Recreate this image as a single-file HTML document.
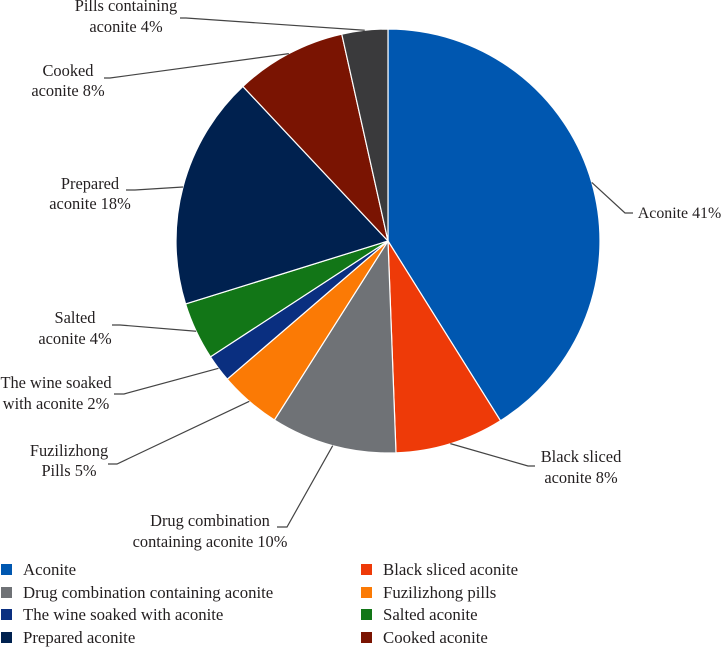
<!DOCTYPE html>
<html>
<head>
<meta charset="utf-8">
<title>Aconite pie chart</title>
<style>
html,body{margin:0;padding:0;background:#fff;width:721px;height:648px;overflow:hidden}
svg{display:block}
text{font-family:"Liberation Serif",serif;font-size:16.4px;fill:#231f20}
text.legend-text{font-size:16.8px}
</style>
</head>
<body>
<svg id="chart" width="721" height="648" viewBox="0 0 721 648" xmlns="http://www.w3.org/2000/svg"></svg>
<script>
const categories = ["Aconite","Black sliced aconite","Drug combination containing aconite","Fuzilizhong pills","The wine soaked with aconite","Salted aconite","Prepared aconite","Cooked aconite","Pills containing aconite"];
const sliceValues = [41.1,8.3,9.6,4.7,2.1,4.4,17.8,8.5,3.5];
const printedPercents = [41,8,10,5,2,4,18,8,4];
const labelFirstLines = ["","Black sliced","Drug combination","Fuzilizhong","The wine soaked","Salted","Prepared","Cooked","Pills containing"];
const labelSecondLines = ["Aconite","aconite","containing aconite","Pills","with aconite","aconite","aconite","aconite","aconite"];
const sliceColors = ["#0057b0","#ee3a08","#6f7276","#fb7a05","#0a2f80","#127617","#00214f","#7a1402","#3a3a3c"];

const NS = "http://www.w3.org/2000/svg";
const svg = document.getElementById("chart");
const cx = 388, cy = 241, r = 212;
const total = sliceValues.reduce((a, b) => a + b, 0);

/* label placement, keyed by category: elbow of the leader, text centre, baselines */
const layout = {
  "Aconite": {ex:625, ey:213, tx:633, lx:679.5, y1:0, y2:218, fs:15.9},
  "Black sliced aconite": {ex:528, ey:466, tx:535, lx:581, y1:462, y2:483},
  "Drug combination containing aconite": {ex:287, ey:527, tx:277, lx:210, y1:526, y2:547},
  "Fuzilizhong pills": {ex:117, ey:464, tx:108, lx:69, y1:456, y2:476},
  "The wine soaked with aconite": {ex:124, ey:394, tx:114, lx:56, y1:388, y2:409},
  "Salted aconite": {ex:120, ey:325, tx:112, lx:75, y1:323, y2:344},
  "Prepared aconite": {ex:135, ey:190, tx:126, lx:90, y1:189, y2:209},
  "Cooked aconite": {ex:110, ey:78, tx:104, lx:68, y1:76, y2:96},
  "Pills containing aconite": {ex:186, ey:18, tx:180, lx:126, y1:11, y2:32}
};

function angleOf(v) { return v / total * Math.PI * 2; }
function px(a, rad) { return cx + rad * Math.sin(a); }
function py(a, rad) { return cy - rad * Math.cos(a); }

let cum = 0;
sliceValues.forEach(function (v, i) {
  const a0 = angleOf(cum), a1 = angleOf(cum + v);
  const slug = categories[i].toLowerCase().replace(/\s+/g, "-");
  const p = document.createElementNS(NS, "path");
  p.setAttribute("d", "M" + cx + " " + cy + "L" + px(a0, r) + " " + py(a0, r) + "A" + r + " " + r + " 0 " + (a1 - a0 > Math.PI ? 1 : 0) + " 1 " + px(a1, r) + " " + py(a1, r) + "Z");
  p.setAttribute("fill", sliceColors[i]);
  p.setAttribute("stroke", "#fff");
  p.setAttribute("stroke-width", "1.2");
  
  
  svg.appendChild(p);

  const mid = angleOf(cum + v / 2);
  const L = layout[categories[i]];
  const line = document.createElementNS(NS, "polyline");
  line.setAttribute("points", px(mid, r) + "," + py(mid, r) + " " + L.ex + "," + L.ey + " " + L.tx + "," + L.ey);
  line.setAttribute("fill", "none");
  line.setAttribute("stroke", "#444");
  line.setAttribute("stroke-width", "1.2");
  
  
  svg.appendChild(line);

  if (labelFirstLines[i]) {
    const t1 = document.createElementNS(NS, "text");
    t1.setAttribute("x", L.lx);
    t1.setAttribute("y", L.y1);
    t1.setAttribute("text-anchor", "middle");
    
    
    t1.textContent = labelFirstLines[i];
    svg.appendChild(t1);
  }
  const t2 = document.createElementNS(NS, "text");
  t2.setAttribute("x", L.lx);
  t2.setAttribute("y", L.y2);
  t2.setAttribute("text-anchor", "middle");
  if (L.fs) { t2.style.fontSize = L.fs + "px"; }
  
  
  t2.textContent = labelSecondLines[i] + " " + printedPercents[i] + "%";
  svg.appendChild(t2);

  cum += v;
});

/* legend: two columns, four rows (the ninth category is not shown in the legend) */
const legendColumnX = [1, 361];
const legendRowY = [570, 593, 615, 638];
categories.slice(0, 8).forEach(function (name, i) {
  const slug = name.toLowerCase().replace(/\s+/g, "-");
  const x = legendColumnX[i % 2], y = legendRowY[Math.floor(i / 2)];
  const g = document.createElementNS(NS, "g");
  
  
  const s = document.createElementNS(NS, "rect");
  s.setAttribute("x", x);
  s.setAttribute("y", y - 6);
  s.setAttribute("width", 11);
  s.setAttribute("height", 11);
  s.setAttribute("fill", sliceColors[i]);
  
  
  g.appendChild(s);
  const t = document.createElementNS(NS, "text");
  t.setAttribute("class", "legend-text");
  t.setAttribute("x", x + 22);
  t.setAttribute("y", y + 5);
  
  
  t.textContent = name;
  g.appendChild(t);
  svg.appendChild(g);
});
</script>
</body>
</html>
